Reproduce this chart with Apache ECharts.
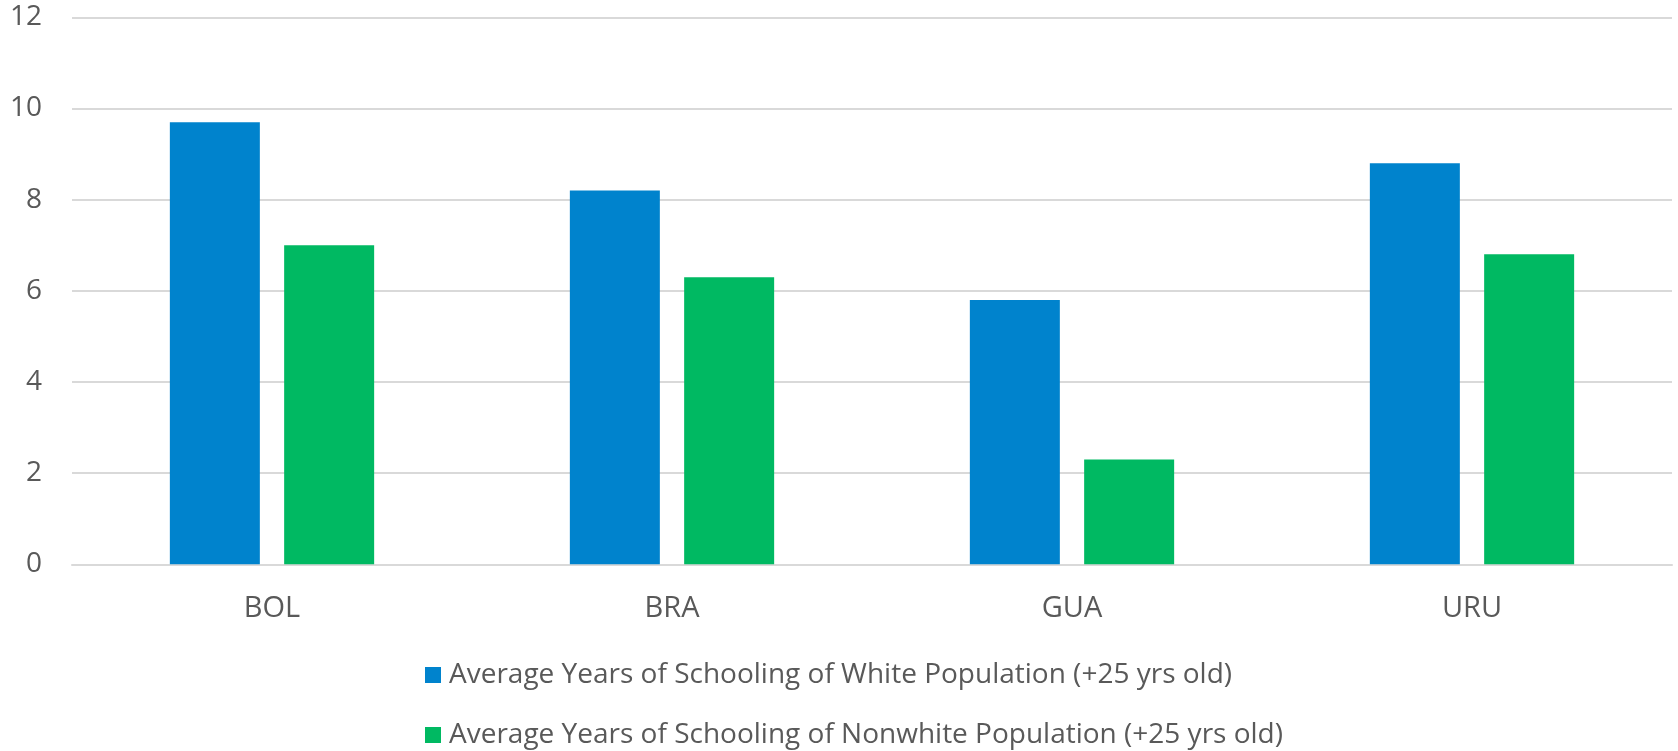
<!DOCTYPE html>
<html><head><meta charset="utf-8">
<script src="https://cdn.jsdelivr.net/npm/echarts@6/dist/echarts.min.js"></script>
<style>html,body{margin:0;padding:0;background:#fff}#c{width:1678px;height:751px}</style>
</head><body><div id="c"></div>
<script>
const categories = ['BOL', 'BRA', 'GUA', 'URU'];
const whiteValues = [9.7, 8.2, 5.8, 8.8];
const nonwhiteValues = [7.0, 6.3, 2.3, 6.8];
const seriesNames = ['Average Years of Schooling of White Population (+25 yrs old)', 'Average Years of Schooling of Nonwhite Population (+25 yrs old)'];
const FONT = '"Open Sans", sans-serif';
const chart = echarts.init(document.getElementById('c'));
chart.setOption({
  animation: false,
  grid: { left: 72, right: 6, top: 17.3, bottom: 751 - 564.3, containLabel: false },
  xAxis: {
    type: 'category', data: categories,
    axisLine: { lineStyle: { color: '#d9d9d9', width: 2 } },
    axisTick: { show: false },
    axisLabel: { color: '#595959', fontSize: 29, fontFamily: FONT, margin: 30 }
  },
  yAxis: {
    type: 'value', min: 0, max: 12, interval: 2,
    axisLine: { show: false }, axisTick: { show: false },
    splitLine: { lineStyle: { color: '#d9d9d9', width: 2 } },
    axisLabel: { color: '#595959', fontSize: 28, fontFamily: FONT, margin: 30 }
  },
  legend: {
    orient: 'vertical', left: 425, top: 661, padding: 0, itemWidth: 16, itemHeight: 16, itemGap: 32,
    icon: 'rect',
    textStyle: { color: '#595959', fontSize: 28, fontFamily: FONT, padding: [0, 0, 0, 3] },
    data: seriesNames
  },
  series: [
    { name: seriesNames[0], type: 'bar', data: whiteValues, barWidth: 90, barGap: '27%', itemStyle: { color: '#0083cd' } },
    { name: seriesNames[1], type: 'bar', data: nonwhiteValues, barWidth: 90, itemStyle: { color: '#00b962' } }
  ]
});
</script></body></html>
